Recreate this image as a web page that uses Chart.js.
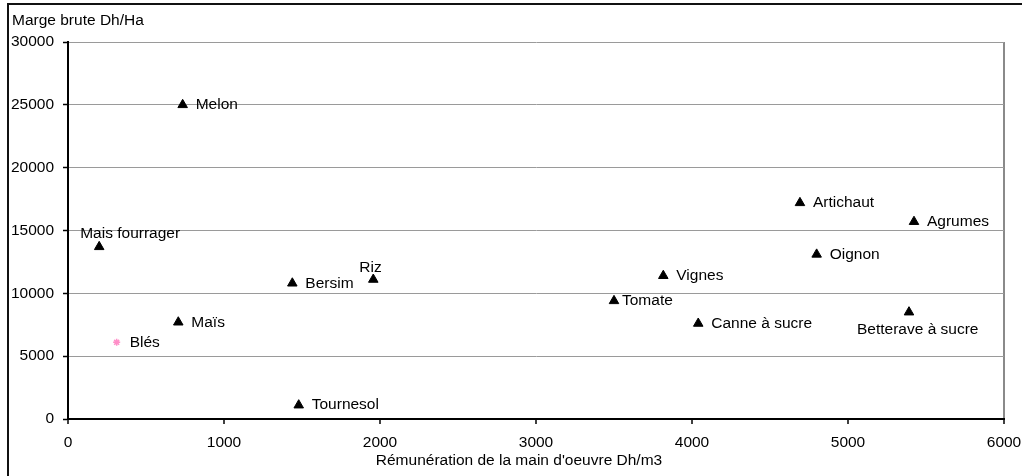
<!DOCTYPE html>
<html lang="fr">
<head>
<meta charset="utf-8">
<title>Marge brute et rémunération de la main d'oeuvre</title>
<script src="https://cdn.jsdelivr.net/npm/chart.js@4.4.1/dist/chart.umd.min.js"></script>
<style>
  html, body { margin: 0; padding: 0; background: #fff; overflow: hidden; }
  #wrap { position: relative; width: 1022px; height: 476px; }
  #frame {
    position: absolute; left: 7px; top: 3px; width: 1030px; height: 490px;
    border-left: 2px solid #111; border-top: 2px solid #111; pointer-events: none;
  }
  canvas { position: absolute; left: 0; top: 0; }
</style>
</head>
<body>
<div id="wrap">
  <canvas id="marginChart" width="1022" height="476"></canvas>
  <div id="frame"></div>
</div>
<script>
const cropNames = ['Melon', 'Mais fourrager', 'Blés', 'Maïs', 'Tournesol', 'Bersim', 'Riz', 'Tomate',
  'Vignes', 'Canne à sucre', 'Artichaut', 'Oignon', 'Agrumes', 'Betterave à sucre'];
const laborPay = [735, 200, 312, 707, 1479, 1438, 1957, 3500, 3816, 4040, 4692, 4799, 5423, 5391];
const grossMargin = [25000, 13700, 6100, 7700, 1100, 10800, 11100, 9400, 11400, 7600, 17200, 13100, 15700, 8500];
const xTicks = [0, 1000, 2000, 3000, 4000, 5000, 6000];
const yTicks = [0, 5000, 10000, 15000, 20000, 25000, 30000];

const FONT = '"Liberation Sans", Arial, Helvetica, sans-serif';
const FONT_SIZE = 15.5;

// where each name sits relative to its marker (default: to the right)
const labelPlacement = {
  'Mais fourrager': { dx: -19, dy: -13 },
  'Riz': { dx: -14, dy: -12 },
  'Tomate': { dx: 8, dy: 0 },
  'Betterave à sucre': { dx: -52, dy: 18 }
};

const points = cropNames.map((name, i) => ({ x: laborPay[i], y: grossMargin[i] }));

const pointLabels = {
  id: 'pointLabels',
  afterDatasetsDraw(chart) {
    const { ctx } = chart;
    const meta = chart.getDatasetMeta(0);
    ctx.save();
    ctx.font = `${FONT_SIZE}px ${FONT}`;
    ctx.fillStyle = '#000';
    ctx.textAlign = 'left';
    ctx.textBaseline = 'middle';
    meta.data.forEach((el, i) => {
      const place = labelPlacement[cropNames[i]] || { dx: 13, dy: 0 };
      ctx.fillText(cropNames[i], el.x + place.dx, el.y + place.dy);
    });
    ctx.restore();
  }
};

const axisTitles = {
  id: 'axisTitles',
  afterDraw(chart) {
    const { ctx } = chart;
    ctx.save();
    ctx.font = `${FONT_SIZE}px ${FONT}`;
    ctx.fillStyle = '#000';
    ctx.textBaseline = 'middle';
    ctx.textAlign = 'left';
    ctx.fillText('Marge brute Dh/Ha', 12, 21);
    ctx.textAlign = 'center';
    ctx.fillText("Rémunération de la main d'oeuvre Dh/m3", 519, 461);
    ctx.restore();
  }
};

new Chart(document.getElementById('marginChart'), {
  type: 'scatter',
  data: {
    datasets: [{
      data: points,
      pointStyle: cropNames.map((n) => (n === 'Blés' ? 'star' : 'triangle')),
      pointRadius: cropNames.map((n) => (n === 'Blés' ? 3.5 : 5.5)),
      pointBackgroundColor: cropNames.map((n) => (n === 'Blés' ? '#ff8fc8' : '#000')),
      pointBorderColor: cropNames.map((n) => (n === 'Blés' ? '#ff8fc8' : '#000')),
      pointBorderWidth: cropNames.map((n) => (n === 'Blés' ? 1.5 : 1)),
      showLine: false
    }]
  },
  options: {
    responsive: false,
    animation: false,
    layout: { padding: { top: 42, right: 18, left: 0, bottom: 0 } },
    plugins: {
      legend: { display: false },
      tooltip: { enabled: false }
    },
    scales: {
      x: {
        type: 'linear',
        min: 0,
        max: 6000,
        afterFit: (scale) => {
          scale.height = 57;
          // the last tick label fits inside the right padding
          scale.paddingLeft = 0;
          scale.paddingRight = 0;
        },
        afterBuildTicks: (scale) => { scale.ticks = xTicks.map((v) => ({ value: v })); },
        border: { color: '#000', width: 2 },
        grid: {
          color: (c) => (c.tick && c.tick.value === 6000 ? '#8a8a8a' : 'rgba(0,0,0,0)'),
          lineWidth: 2,
          tickColor: '#000',
          tickLength: 5,
          tickWidth: 1.5
        },
        ticks: {
          color: '#000',
          padding: 9,
          maxRotation: 0,
          callback: (v) => String(v),
          font: { family: FONT, size: FONT_SIZE }
        }
      },
      y: {
        type: 'linear',
        min: 0,
        max: 30000,
        afterFit: (scale) => { scale.width = 68; },
        afterBuildTicks: (scale) => { scale.ticks = yTicks.map((v) => ({ value: v })); },
        border: { color: '#000', width: 2 },
        grid: {
          color: (c) => (c.tick && c.tick.value === 0 ? 'rgba(0,0,0,0)' : '#9a9a9a'),
          lineWidth: 1,
          tickColor: '#000',
          tickLength: 5,
          tickWidth: 1.5
        },
        ticks: {
          color: '#000',
          padding: 9,
          callback: (v) => String(v),
          font: { family: FONT, size: FONT_SIZE }
        }
      }
    }
  },
  plugins: [pointLabels, axisTitles]
});
</script>
</body>
</html>
